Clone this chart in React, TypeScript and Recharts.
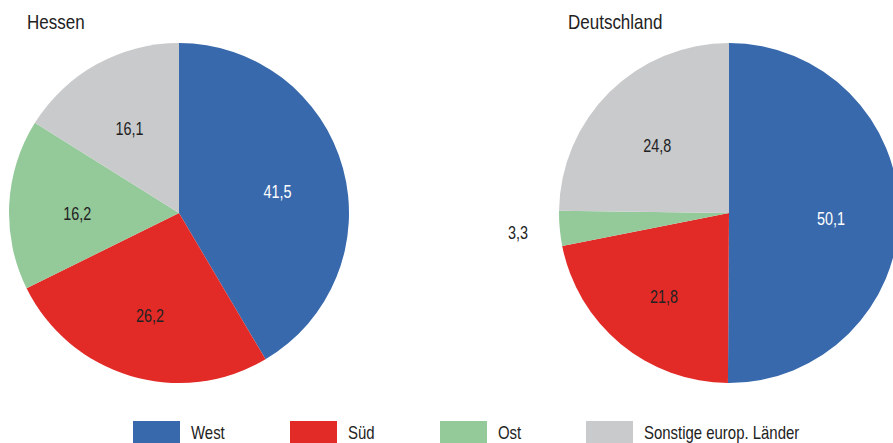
import React from 'react';
import { PieChart, Pie, Cell } from 'recharts';

const categories = ['West', 'Süd', 'Ost', 'Sonstige europ. Länder'];
const colors = ['#3869AC', '#E22A27', '#94C99A', '#C9CACC'];
const hessenValues = [41.5, 26.2, 16.2, 16.1];
const deutschlandValues = [50.1, 21.8, 3.3, 24.8];
const titles = ['Hessen', 'Deutschland'];

const FONT = '"Liberation Sans", Arial, sans-serif';
const RAD = Math.PI / 180;

const fmt = (v: number) => v.toFixed(1).replace('.', ',');

const hessenData = categories.map((name, i) => ({ name, value: hessenValues[i] }));
const deutschlandData = categories.map((name, i) => ({ name, value: deutschlandValues[i] }));

const makeLabel = (outsideIndex: number | null) => (props: any) => {
  const { cx, cy, midAngle, outerRadius, index, value } = props;
  const r = index === outsideIndex ? outerRadius + 42 : outerRadius * 0.6;
  const x = cx + r * Math.cos(-midAngle * RAD);
  const y = cy + r * Math.sin(-midAngle * RAD) + (index === outsideIndex ? 0 : 5);
  return (
    <text
      transform={`translate(${x},${y}) scale(0.8,1)`}
      x={0}
      y={0}
      textAnchor="middle"
      dominantBaseline="central"
      fill={index === 0 ? '#ffffff' : '#222222'}
      fontSize={18}
      fontFamily={FONT}
    >
      {fmt(value)}
    </text>
  );
};

const legendRectX = [133, 290, 440, 586];

export default function App() {
  return (
    <div style={{ position: 'absolute', left: 0, top: 0, width: 893, height: 443, background: '#fff', overflow: 'hidden' }}>
      <PieChart width={893} height={443} margin={{ top: 0, right: 0, bottom: 0, left: 0 }}>
        <Pie
          data={hessenData}
          dataKey="value"
          nameKey="name"
          cx={179}
          cy={213}
          outerRadius={170}
          startAngle={90}
          endAngle={-270}
          stroke="none"
          labelLine={false}
          label={makeLabel(null)}
          isAnimationActive={false}
        >
          {hessenData.map((d, i) => (
            <Cell key={d.name} fill={colors[i]} />
          ))}
        </Pie>
        <Pie
          data={deutschlandData}
          dataKey="value"
          nameKey="name"
          cx={729}
          cy={213}
          outerRadius={170}
          startAngle={90}
          endAngle={-270}
          stroke="none"
          labelLine={false}
          label={makeLabel(2)}
          isAnimationActive={false}
        >
          {deutschlandData.map((d, i) => (
            <Cell key={d.name} fill={colors[i]} />
          ))}
        </Pie>
      </PieChart>
      <svg width={893} height={443} style={{ position: 'absolute', left: 0, top: 0, pointerEvents: 'none' }}>
        <text transform="translate(27,29) scale(0.85,1)" fontFamily={FONT} fontSize={20} fill="#222">
          {titles[0]}
        </text>
        <text transform="translate(568,29) scale(0.85,1)" fontFamily={FONT} fontSize={20} fill="#222">
          {titles[1]}
        </text>
        {categories.map((c, i) => (
          <g key={c}>
            <rect x={legendRectX[i]} y={421} width={47} height={22} fill={colors[i]} />
            <text
              transform={`translate(${legendRectX[i] + 58},439) scale(0.83,1)`}
              fontFamily={FONT}
              fontSize={18}
              fill="#222"
            >
              {c}
            </text>
          </g>
        ))}
      </svg>
    </div>
  );
}
